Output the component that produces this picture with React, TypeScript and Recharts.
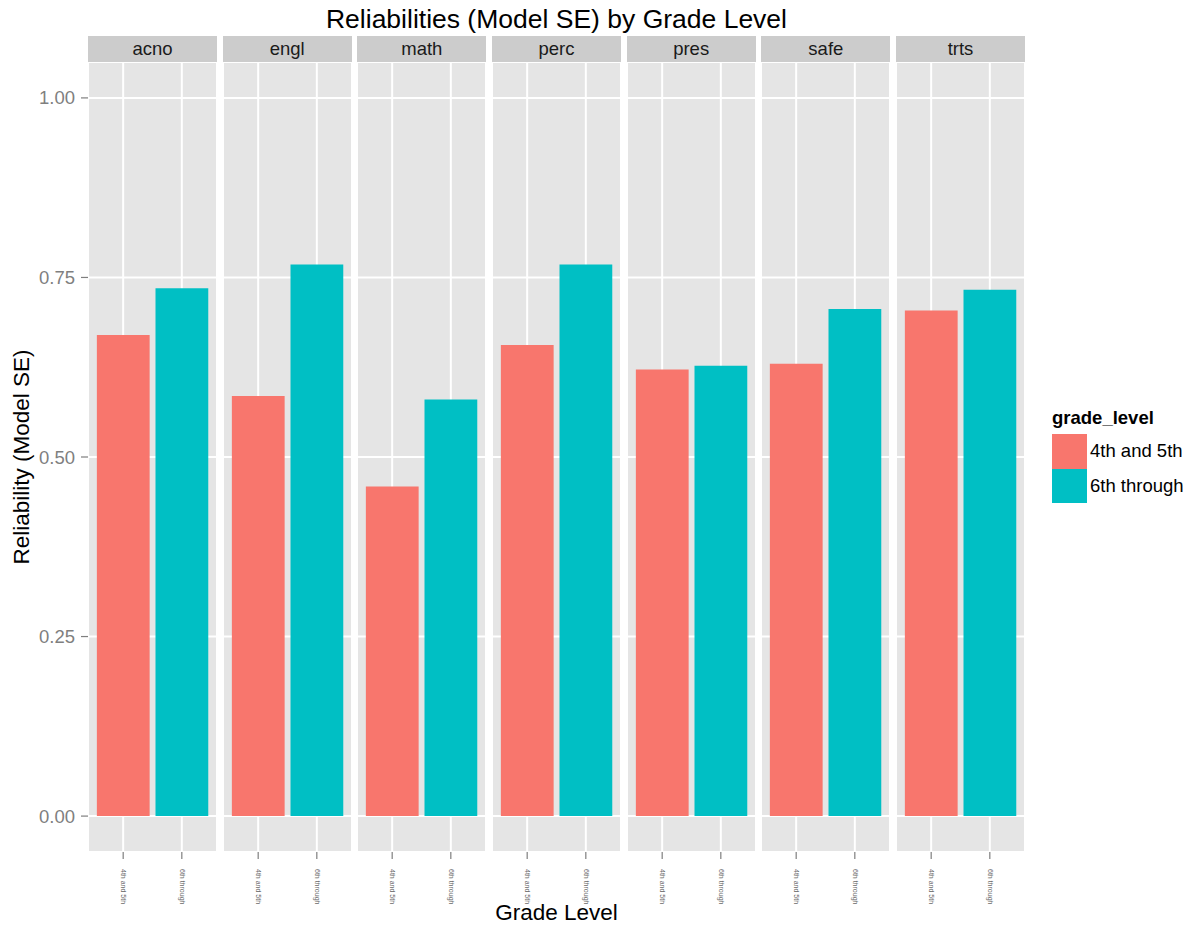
import React from 'react';
import { BarChart, Bar, Cell, XAxis, YAxis, CartesianGrid } from 'recharts';

// facet panels and the two grade groups
const facets = ['acno', 'engl', 'math', 'perc', 'pres', 'safe', 'trts'];
const gradeLevels = ['4th and 5th', '6th through'];

// reliability per facet
const fourthAndFifth = [0.670, 0.585, 0.459, 0.656, 0.622, 0.630, 0.704];
const sixthThrough = [0.735, 0.768, 0.580, 0.768, 0.627, 0.706, 0.733];

const yTicks = [0, 0.25, 0.5, 0.75, 1];

const colors = ['#F8766D', '#00BFC4'];
const FONT = '"Liberation Sans", Arial, Helvetica, sans-serif';

const PLOT_TOP = 62;
const PLOT_H = 790;
const PANEL_W = 129;
const PANEL_GAP = 5.67;
const FIRST_LEFT = 88;
const Y_AXIS_W = 88;
const X_AXIS_H = 60;
const UNIT = PANEL_W / 2.2;

const XTick = (props: any) => {
    const { x, y, payload } = props;
    return (
        <text
            x={x}
            y={y}
            transform={`rotate(90, ${x}, ${y})`}
            textAnchor="start"
            dominantBaseline="middle"
            fontSize={7}
            fontFamily={FONT}
            fill="#6A6A6A"
        >
            {payload.value}
        </text>
    );
};

const Panel: React.FC<{ index: number }> = ({ index }) => {
    const data = gradeLevels.map((g, i) => ({
        grade: g,
        value: i === 0 ? fourthAndFifth[index] : sixthThrough[index],
    }));
    const first = index === 0;
    const panelLeft = FIRST_LEFT + index * (PANEL_W + PANEL_GAP);
    const left = first ? panelLeft - Y_AXIS_W : panelLeft;
    const width = first ? PANEL_W + Y_AXIS_W : PANEL_W;

    return (
        <div style={{ position: 'absolute', left, top: PLOT_TOP }}>
            <div
                style={{
                    position: 'absolute',
                    left: first ? Y_AXIS_W : 0,
                    top: -26,
                    width: PANEL_W,
                    height: 26,
                    background: '#CCCCCC',
                    color: '#1A1A1A',
                    fontFamily: FONT,
                    fontSize: 18.5,
                    lineHeight: '26px',
                    textAlign: 'center',
                }}
            >
                {facets[index]}
            </div>
            <BarChart
                width={width}
                height={PLOT_H + X_AXIS_H}
                data={data}
                margin={{ top: 0, right: 0, bottom: 0, left: 0 }}
            >
                <CartesianGrid fill="#E5E5E5" stroke="#FFFFFF" strokeWidth={2} strokeDasharray="" />
                <XAxis
                    dataKey="grade"
                    height={X_AXIS_H}
                    padding={{ left: UNIT * 0.1, right: UNIT * 0.1 }}
                    axisLine={false}
                    tickLine={{ stroke: '#7F7F7F', strokeWidth: 1.2 }}
                    tickSize={7}
                    tickMargin={10}
                    tick={<XTick />}
                    interval={0}
                />
                <YAxis
                    hide={!first}
                    width={Y_AXIS_W}
                    domain={[-0.05, 1.05]}
                    allowDataOverflow
                    ticks={yTicks}
                    tickFormatter={(v: number) => v.toFixed(2)}
                    axisLine={false}
                    tickLine={{ stroke: '#7F7F7F', strokeWidth: 1.2 }}
                    tickSize={7}
                    tickMargin={6}
                    tick={{ fill: '#7F7F7F', fontSize: 18.5, fontFamily: FONT }}
                />
                <Bar dataKey="value" barSize={UNIT * 0.9} isAnimationActive={false}>
                    {data.map((_, i) => (
                        <Cell key={i} fill={colors[i]} />
                    ))}
                </Bar>
            </BarChart>
        </div>
    );
};

export default function App() {
    return (
        <div
            style={{
                position: 'absolute',
                left: 0,
                top: 0,
                width: 1192,
                height: 930,
                background: '#FFFFFF',
                fontFamily: FONT,
                overflow: 'hidden',
            }}
        >
            <div style={{ position: 'absolute', left: 88, width: 937, top: 4, textAlign: 'center', fontSize: 26.5, color: '#000' }}>
                Reliabilities (Model SE) by Grade Level
            </div>

            {facets.map((_, i) => (
                <Panel key={i} index={i} />
            ))}

            <div style={{ position: 'absolute', left: 88, width: 937, top: 900, textAlign: 'center', fontSize: 22.5, color: '#000' }}>
                Grade Level
            </div>
            <div
                style={{
                    position: 'absolute',
                    left: 22,
                    top: 457,
                    transform: 'translate(-50%, -50%) rotate(-90deg)',
                    whiteSpace: 'nowrap',
                    fontSize: 22.5,
                    color: '#000',
                }}
            >
                Reliability (Model SE)
            </div>

            <div style={{ position: 'absolute', left: 1052, top: 406, fontFamily: FONT }}>
                <div style={{ fontWeight: 'bold', fontSize: 18.5, color: '#000', marginBottom: 4, lineHeight: '24px' }}>grade_level</div>
                {gradeLevels.map((g, i) => (
                    <div key={g} style={{ display: 'flex', alignItems: 'center', height: 34.5 }}>
                        <div style={{ width: 35, height: 34.5, background: colors[i] }} />
                        <span style={{ marginLeft: 3, fontSize: 18.5, color: '#000' }}>{g}</span>
                    </div>
                ))}
            </div>
        </div>
    );
}
